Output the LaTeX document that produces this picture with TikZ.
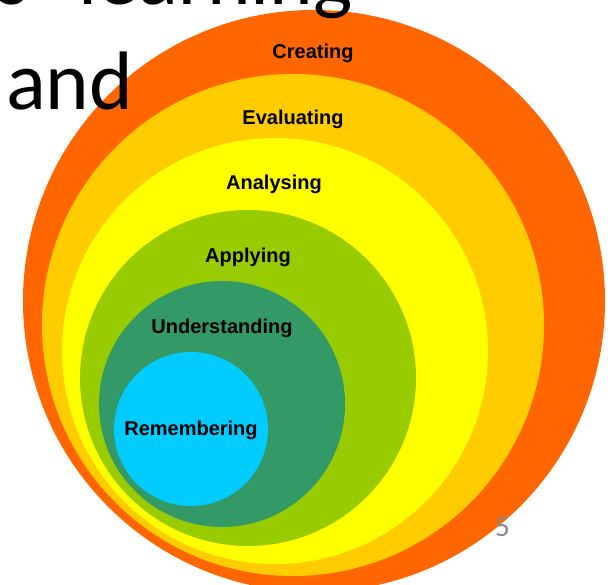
\documentclass[tikz,border=0pt]{standalone}
\usepackage{fontspec}
\setmainfont{Carlito}
\newfontfamily\ringfont{Liberation Sans}
\definecolor{creatingcol}{HTML}{FF6600}
\definecolor{evaluatingcol}{HTML}{FFCC00}
\definecolor{analysingcol}{HTML}{FFFF00}
\definecolor{applyingcol}{HTML}{99CC00}
\definecolor{understandingcol}{HTML}{339966}
\definecolor{rememberingcol}{HTML}{00CCFF}
\definecolor{pagenumcol}{HTML}{898989}
\begin{document}
\begin{tikzpicture}[x=1pt,y=-1pt,inner sep=0pt,outer sep=0pt,
ring/.style={circle,draw=none,minimum size=#1},
ringlabel/.style={anchor=base,font=\ringfont\bfseries\fontsize{20}{24}\selectfont},
slidetext/.style={font=\fontsize{83}{92}\selectfont}]
\useasboundingbox (0,0) rectangle (612,585);
% nested circles, outermost first
\node[ring=582pt,fill=creatingcol] (creating) at (314,301) {};
\node[ring=502pt,fill=evaluatingcol] (evaluating) at (293,325) {};
\node[ring=426pt,fill=analysingcol] (analysing) at (275,351) {};
\node[ring=336pt,fill=applyingcol] (applying) at (248,378) {};
\node[ring=246pt,fill=understandingcol] (understanding) at (222,404) {};
\node[ring=154pt,fill=rememberingcol] (remembering) at (191,429) {};

\node[ringlabel] (creatinglbl) at (313,59) {Creating};
\node[ringlabel] (evaluatinglbl) at (293,125) {Evaluating};
\node[ringlabel] (analysinglbl) at (274,190) {Analysing};
\node[ringlabel] (applyinglbl) at (248,262) {Applying};
\node[ringlabel] (understandinglbl) at (222,333) {Understanding};
\node[ringlabel] (rememberinglbl) at (191,435) {Remembering};

% slide title, cut off at the top
\node[slidetext,anchor=base east] (titles) at (29,5) {s};
\node[slidetext,anchor=base west] (titlelearning) at (78,5) {learning};
\node[slidetext,anchor=base west] (titleand) at (6,110) {and};
\node[anchor=base west,text=pagenumcol,font=\fontsize{29}{32}\selectfont] (pagenum) at (495,536) {5};
\end{tikzpicture}
\end{document}
